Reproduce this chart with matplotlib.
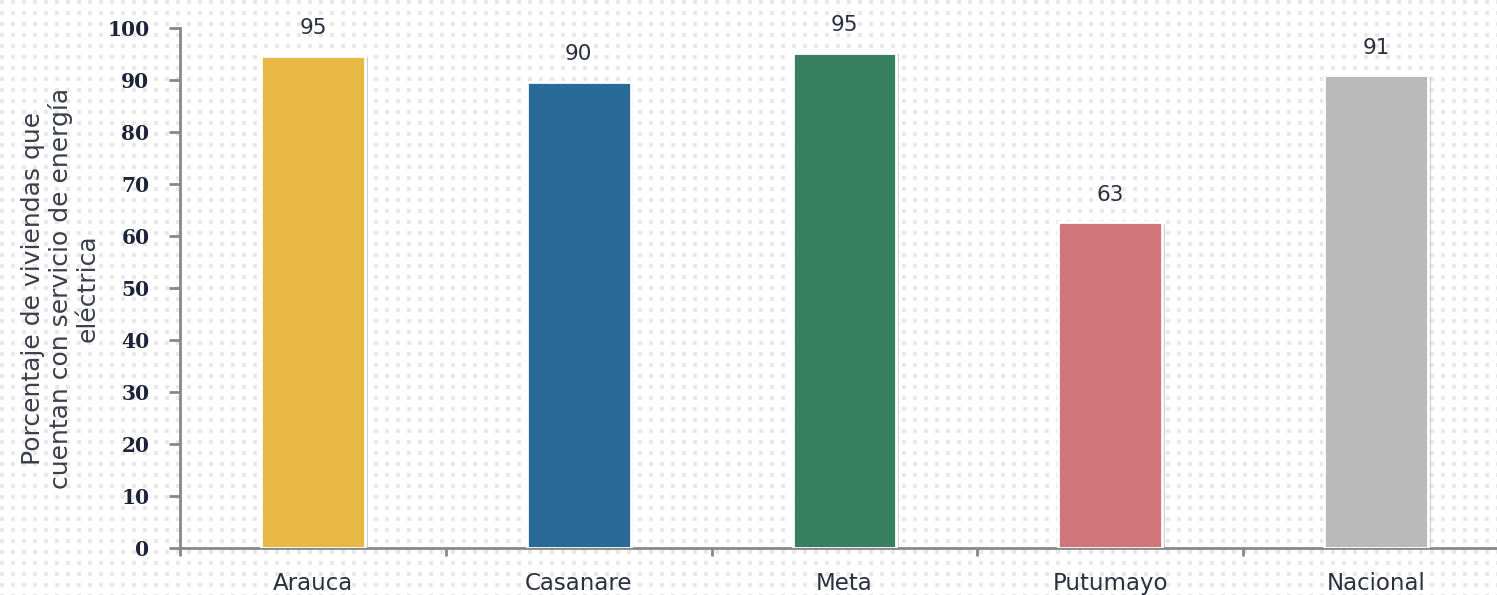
import numpy as np
import matplotlib
matplotlib.use("Agg")
import matplotlib.pyplot as plt
import matplotlib.patheffects as pe

categories = ["Arauca", "Casanare", "Meta", "Putumayo", "Nacional"]
values = [94.6, 89.6, 95.2, 62.6, 90.9]
colors = ["#E8B844", "#2A6A99", "#387F62", "#D07579", "#BABABA"]
ylabel = "Porcentaje de viviendas que\ncuentan con servicio de energía\neléctrica"

W, H = 1497, 595
fig = plt.figure(figsize=(W / 100, H / 100), dpi=100)
fig.patch.set_facecolor("white")

# dotted background texture
bg = np.ones((H, W, 3))
yy, xx = np.mgrid[0:H, 0:W]
mask = ((xx % 11) < 4) & ((yy % 11) < 4)
bg[mask] = [0.91, 0.91, 0.91]
fig.figimage(bg, xo=0, yo=0, zorder=-5)

left, right, bottom, top = 180 / W, 1509 / W, 1 - 548 / H, 1 - 28 / H
ax = fig.add_axes([left, bottom, right - left, top - bottom])
ax.set_zorder(5)
ax.patch.set_alpha(0)

x = np.arange(len(categories))
shadow = [pe.SimplePatchShadow(offset=(2, -1), shadow_rgbFace="#888888", alpha=0.4), pe.Normal()]
bars = ax.bar(x, values, width=0.39, color=colors, edgecolor="white", linewidth=2, zorder=3)
for b in bars:
    b.set_path_effects(shadow)

for xi, v in zip(x, values):
    ax.text(xi, v + 3.4, f"{v:.0f}", ha="center", va="bottom", fontsize=15.5,
            color="#2b3040", fontfamily="DejaVu Sans")

ax.set_xlim(-0.5, len(categories) - 0.5)
ax.set_ylim(0, 100)
ax.set_yticks(np.arange(0, 101, 10))
ax.set_yticklabels([str(t) for t in range(0, 101, 10)], fontfamily="DejaVu Serif",
                   fontweight="bold", fontsize=14.5, color="#1c2238")

ax.set_xticks(np.arange(-0.5, len(categories), 1.0))
ax.set_xticklabels([])
ax.set_xticks(x, minor=True)
ax.set_xticklabels(categories, minor=True, fontsize=16.5, color="#2b3040", fontfamily="DejaVu Sans")
ax.tick_params(axis="x", which="minor", length=0, pad=17)
ax.tick_params(axis="x", which="major", length=6, width=2, color="#888888", direction="out")
ax.tick_params(axis="y", length=8, width=2, color="#888888", pad=14)

for s in ["top", "right"]:
    ax.spines[s].set_visible(False)
for s in ["left", "bottom"]:
    ax.spines[s].set_color("#888888")
    ax.spines[s].set_linewidth(2)

fig.text(60 / W, 1 - 288 / H, ylabel, rotation=90, ha="center", va="center",
         fontsize=18, color="#3a3f4a", fontfamily="DejaVu Sans", linespacing=1.15,
         multialignment="center")

fig.savefig("out.png", dpi=100)
